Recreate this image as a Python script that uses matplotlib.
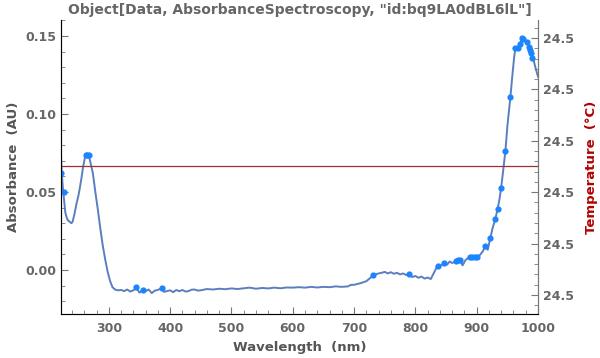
import numpy as np
import matplotlib
matplotlib.use("Agg")
import matplotlib.pyplot as plt
from matplotlib.ticker import MultipleLocator, AutoMinorLocator, FixedLocator, FixedFormatter

# spectrum (nm, AU)
wavelength = [222, 223, 225, 227, 229, 231, 233, 236, 239, 241, 244, 247, 250, 252, 255, 258, 261, 263, 267,
              270, 274, 278, 282, 286, 290, 294, 298, 302, 306, 310, 315, 320, 325, 330, 335, 340, 345, 350,
              355, 360, 365, 370, 375, 380, 385, 390, 395, 400, 405, 410, 415, 420, 425, 430, 435, 440, 445,
              450, 460, 470, 480, 490, 500, 510, 520, 530, 540, 550, 560, 570, 580, 590, 600, 610, 620, 630,
              640, 650, 660, 670, 680, 690, 695, 700, 710, 720, 725, 731, 735, 740, 745, 750, 755, 760, 765,
              770, 775, 780, 785, 790, 795, 800, 805, 810, 815, 820, 825, 830, 835, 840, 846, 852, 856, 860,
              866, 872, 877, 882, 889, 895, 900, 905, 910, 914, 918, 922, 926, 930, 934, 937, 940, 943, 947,
              950, 955, 958, 961, 963, 967, 970, 974, 977, 980, 983, 986, 989, 992, 995, 1000]
absorbance = [0.074, 0.064, 0.053, 0.045, 0.037, 0.034, 0.032, 0.031, 0.030, 0.031, 0.036, 0.042, 0.047, 0.051,
              0.058, 0.066, 0.072, 0.074, 0.074, 0.069, 0.062, 0.050, 0.039, 0.027, 0.016, 0.007, -0.001,
              -0.007, -0.011, -0.0125, -0.013, -0.0128, -0.0135, -0.0125, -0.0138, -0.013, -0.0115, -0.0145,
              -0.013, -0.0135, -0.0125, -0.0148, -0.0132, -0.0128, -0.0118, -0.014, -0.0135, -0.013, -0.0142,
              -0.0128, -0.0136, -0.0128, -0.0138, -0.0135, -0.0126, -0.0125, -0.0132, -0.013, -0.0122, -0.0125,
              -0.012, -0.0123, -0.0118, -0.0122, -0.0117, -0.0113, -0.012, -0.0115, -0.0118, -0.0113, -0.0117,
              -0.0112, -0.0113, -0.011, -0.0113, -0.0108, -0.0112, -0.0108, -0.011, -0.0105, -0.0108, -0.0105,
              -0.0095, -0.0095, -0.0085, -0.0072, -0.0055, -0.0035, -0.0028, -0.0022, -0.0018, -0.0012,
              -0.0022, -0.0014, -0.0024, -0.0018, -0.0028, -0.0022, -0.0032, -0.0026, -0.0045, -0.0038,
              -0.005, -0.0042, -0.0055, -0.0048, -0.0058, -0.002, 0.002, 0.0025, 0.004, 0.0035, 0.0055,
              0.0045, 0.0055, 0.0062, 0.003, 0.0065, 0.0085, 0.0082, 0.0085, 0.0095, 0.012, 0.015, 0.013,
              0.020, 0.027, 0.032, 0.039, 0.045, 0.053, 0.063, 0.077, 0.092, 0.111, 0.124, 0.136, 0.142,
              0.142, 0.145, 0.148, 0.147, 0.147, 0.146, 0.142, 0.139, 0.136, 0.131, 0.124]

# highlighted points
point_nm = [222.5, 226.5, 262.5, 265, 267, 345, 355, 386.5, 731, 790, 837, 846, 866, 870, 873, 889, 893,
            897, 900, 914, 922, 930, 934, 940, 946.7, 955, 963, 967, 970, 974, 976, 982, 985, 987, 989, 991]
point_au = [0.0624, 0.050, 0.074, 0.074, 0.074, -0.0107, -0.0128, -0.0113, -0.0032, -0.0026, 0.0026, 0.0047,
            0.006, 0.0064, 0.0064, 0.0085, 0.0083, 0.0083, 0.0081, 0.0154, 0.0207, 0.0327, 0.0391, 0.0528,
            0.0765, 0.111, 0.1425, 0.1425, 0.145, 0.1485, 0.148, 0.1463, 0.143, 0.141, 0.139, 0.1357]

# temperature (constant)
temperature = 24.5
temp_step = 1e-5
temp_ticks = [temperature + (k - 2.5) * temp_step for k in range(6)]

grey = "#666666"
plt.rcParams['font.family'] = ['DejaVu Sans']
plt.rcParams['font.weight'] = 'bold'

fig = plt.figure(figsize=(6, 3.58), dpi=100)
ax = fig.add_axes([61/600, 44/358, 477/600, 294/358])

ax.plot(wavelength, absorbance, color="#5a7fbf", lw=1.4, zorder=3)
ax.plot(point_nm, point_au, 'o', color="#1a85ff", ms=4.5, mec="none", zorder=4)

ax.set_xlim(222, 1000)
ax.set_ylim(-0.0282, 0.1603)
ax.xaxis.set_major_locator(MultipleLocator(100))
ax.xaxis.set_minor_locator(MultipleLocator(20))
ax.yaxis.set_major_locator(MultipleLocator(0.05))
ax.yaxis.set_minor_locator(MultipleLocator(0.01))
ax.yaxis.set_major_formatter(plt.FuncFormatter(lambda v, p: f"{v:.2f}"))

ax.spines['top'].set_visible(False)
for s in ['left', 'bottom', 'right']:
    ax.spines[s].set_color("#777777")
ax.tick_params(which='both', direction='in', colors="#777777", labelcolor=grey, labelsize=9)
ax.tick_params(which='major', length=5)
ax.tick_params(which='minor', length=3)
ax.tick_params(axis='x', pad=6)

ax.set_xlabel("Wavelength  (nm)", color="#555555", fontsize=9.5, fontweight='bold')
ax.set_ylabel("Absorbance  (AU)", color="#555555", fontsize=9.5, fontweight='bold')
ax.set_title('Object[Data, AbsorbanceSpectroscopy, "id:bq9LA0dBL6lL"]', color=grey,
             fontsize=10, fontweight='bold', pad=4)

ax2 = ax.twinx()
ax2.set_ylim(temp_ticks[0] - 0.37 * temp_step, temp_ticks[-1] + 0.35 * temp_step)
ax2.axhline(temperature, color="#a03030", lw=0.9, zorder=2)
ax2.yaxis.set_major_locator(FixedLocator(temp_ticks))
ax2.yaxis.set_major_formatter(FixedFormatter(["24.5"] * len(temp_ticks)))
ax2.yaxis.set_minor_locator(AutoMinorLocator(5))
ax2.spines['top'].set_visible(False)
ax2.spines['right'].set_color("#777777")
ax2.tick_params(which='both', direction='in', colors="#777777", labelcolor=grey, labelsize=9)
ax2.tick_params(which='major', length=5)
ax2.tick_params(which='minor', length=3)
ax2.set_ylabel("Temperature  (°C)", color="#b30000", fontsize=9.5, fontweight='bold', labelpad=8)

fig.savefig("out.png", dpi=100)
